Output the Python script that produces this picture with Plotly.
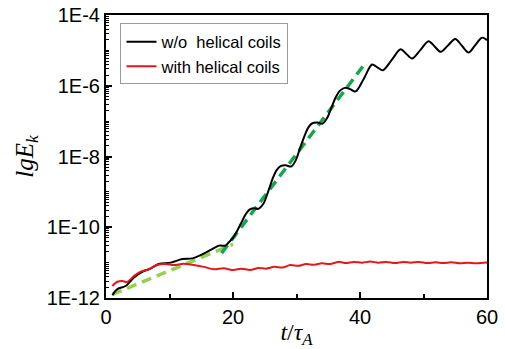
import plotly.graph_objects as go

# ---- data ----
t_wo = [1.0, 1.8, 3.1, 4.4, 5.7, 7.0, 8.3, 10.2, 12.0, 13.6, 14.9, 16.4, 17.8, 18.8, 19.3, 20.0,
        20.6, 21.2, 22.0, 22.6, 23.2, 24.0, 24.8, 25.6, 26.3, 26.9, 27.5, 28.3, 29.2, 29.9, 30.6,
        31.3, 31.9, 32.5, 33.3, 34.1, 34.8, 35.5, 36.2, 36.9, 37.6, 38.4, 39.3, 40.6, 41.9,
        42.75, 43.6, 45.0, 46.4, 47.3, 48.2, 49.5, 50.8, 51.75, 52.7, 53.85, 55.0, 56.05, 57.1,
        58.15, 59.2, 60.0]
E_wo = [1.20e-12, 1.78e-12, 2.19e-12, 3.80e-12, 5.50e-12, 6.76e-12, 9.12e-12, 1.0e-11, 1.26e-11,
        1.32e-11, 1.62e-11, 2.24e-11, 3.02e-11, 3.02e-11, 3.72e-11, 5.0e-11,
        7.59e-11, 1.23e-10, 2.34e-10, 3.16e-10, 3.47e-10, 3.31e-10, 4.68e-10, 1.10e-9, 2.51e-9,
        4.17e-9, 5.37e-9, 5.62e-9, 5.25e-9, 7.94e-9, 1.82e-8,
        3.98e-8, 6.76e-8, 8.71e-8, 9.12e-8, 8.51e-8, 1.20e-7, 2.40e-7, 4.79e-7, 7.41e-7, 8.71e-7,
        8.13e-7, 6.92e-7, 1.58e-6, 3.98e-6,
        3.31e-6, 2.75e-6, 5.37e-6, 1.07e-5, 7.94e-6, 5.89e-6, 1.02e-5, 1.82e-5, 1.29e-5, 9.12e-6,
        1.38e-5, 2.09e-5, 1.35e-5, 8.71e-6,
        1.41e-5, 2.29e-5, 1.95e-5]

t_w = [1.0, 1.8, 2.6, 3.3, 4.4, 5.4, 6.7, 8.1, 9.4, 10.7, 12.2, 13.6, 15.4, 17.0, 18.5, 20.1,
       21.3, 22.7, 24.0, 25.2, 26.5, 27.8, 29.0, 30.3, 31.5, 32.8, 34.0, 35.3, 36.6, 37.8, 39.0,
       40.3, 41.6, 42.9, 44.2, 45.5, 46.8, 48.0, 49.3, 50.6, 51.9, 53.1, 54.4, 55.7, 57.0, 58.2,
       59.5, 60.0]
E_w = [2.19e-12, 2.88e-12, 3.02e-12, 2.82e-12, 4.17e-12, 5.50e-12, 6.46e-12, 8.71e-12, 9.12e-12,
       8.51e-12, 9.33e-12, 8.71e-12, 7.59e-12, 6.46e-12, 6.92e-12, 6.17e-12,
       6.76e-12, 6.17e-12, 7.08e-12, 6.76e-12, 7.59e-12, 7.24e-12, 8.51e-12, 8.13e-12, 9.12e-12,
       8.71e-12, 9.55e-12, 9.12e-12, 1.05e-11, 9.77e-12, 1.05e-11,
       1.0e-11, 1.07e-11, 1.0e-11, 1.05e-11, 9.77e-12, 1.05e-11, 1.0e-11, 1.05e-11, 9.77e-12,
       1.02e-11, 9.77e-12, 1.02e-11, 9.55e-12, 1.0e-11, 9.55e-12, 1.0e-11, 1.0e-11]

fit1_t = [1.0, 20.0]
fit1_E = [1.26e-12, 3.31e-11]
fit2_t = [18.2, 40.8]
fit2_E = [1.86e-11, 4.27e-6]

y_tickvals = [1e-12, 1e-10, 1e-8, 1e-6, 1e-4]
y_ticktext = ["1E-12", "1E-10", "1E-8", "1E-6", "1E-4"]
x_tickvals = [0, 20, 40, 60]

# minor tick positions on the log axis (odd decades and 2..9 within each decade)
y_minor = []
for n in range(-12, -4):
    for k in range(1, 10):
        if k == 1 and n % 2 == 0:
            continue
        y_minor.append(k * 10.0 ** n)

fig = go.Figure()
fig.add_trace(go.Scatter(x=fit1_t, y=fit1_E, mode="lines", showlegend=False,
                         line=dict(color="#92D050", width=3.5, dash="10px,6px")))
fig.add_trace(go.Scatter(x=fit2_t, y=fit2_E, mode="lines", showlegend=False,
                         line=dict(color="#12A84E", width=3.5, dash="10px,6px")))
fig.add_trace(go.Scatter(x=t_wo, y=E_wo, mode="lines", name="w/o  helical coils",
                         line=dict(color="black", width=2, shape="spline", smoothing=0.9)))
fig.add_trace(go.Scatter(x=t_w, y=E_w, mode="lines", name="with helical coils",
                         line=dict(color="#E8161B", width=2, shape="spline", smoothing=0.8)))

font = "Liberation Sans, Arial, sans-serif"
fig.update_layout(
    width=505, height=349,
    margin=dict(l=106, r=18, t=15, b=51, autoexpand=False),
    paper_bgcolor="white", plot_bgcolor="white",
    font=dict(family=font, color="black", size=20),
    legend=dict(x=0.038, y=0.97, xanchor="left", yanchor="top",
                bgcolor="white", bordercolor="#9a9a9a", borderwidth=1,
                font=dict(size=16.5, family=font), tracegroupgap=0,
                itemwidth=30),
    xaxis=dict(range=[0, 60], tickvals=x_tickvals, ticks="inside", ticklen=6, tickwidth=1.5,
               tickcolor="black", showline=True, linecolor="black", linewidth=2, mirror=True,
               showgrid=False, zeroline=False, tickfont=dict(size=20), automargin=False,
               minor=dict(tickvals=[10, 30, 50], ticks="inside", ticklen=4, tickcolor="black",
                          tickwidth=1.5),
               title=dict(text="<i>t</i>/<i>τ</i><sub><i>A</i></sub>",
                          font=dict(family="Liberation Serif, serif", size=24), standoff=4)),
    yaxis=dict(type="log", range=[-12, -4], tickvals=y_tickvals, ticktext=y_ticktext,
               ticks="inside", ticklen=6, tickwidth=1.5, tickcolor="black",
               showline=True, linecolor="black", linewidth=2, mirror=True,
               showgrid=False, zeroline=False, tickfont=dict(size=20), automargin=False,
               minor=dict(tickvals=y_minor, ticks="inside", ticklen=3, tickcolor="black",
                          tickwidth=1),
               title=dict(text="<i>lgE</i><sub><i>k</i></sub>",
                          font=dict(family="Liberation Serif, serif", size=25), standoff=6)),
)

fig.write_html("out.html")
